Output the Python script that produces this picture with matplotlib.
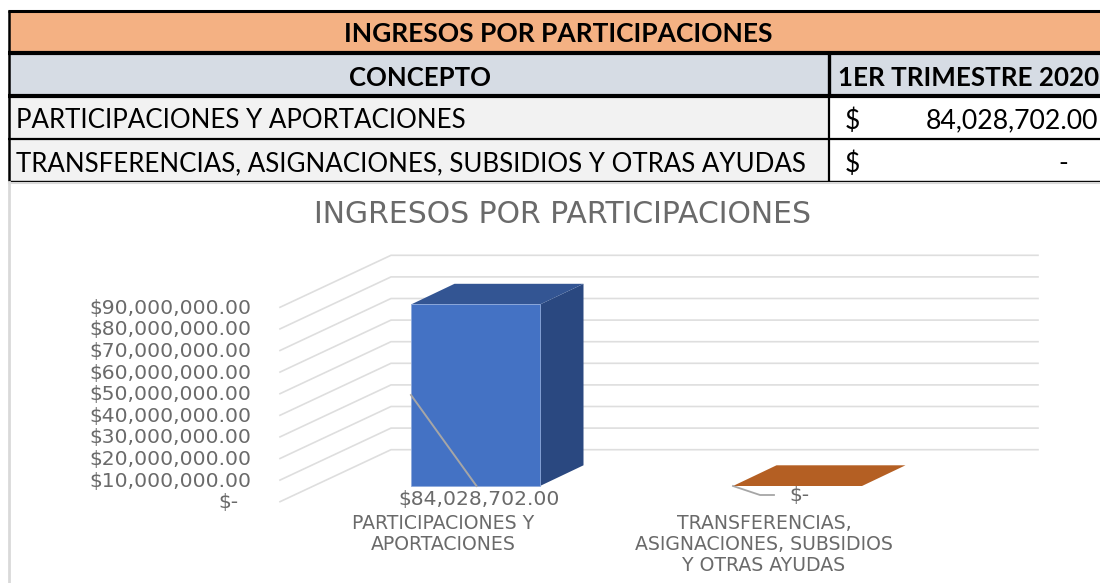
import matplotlib
matplotlib.use("Agg")
import matplotlib.pyplot as plt
from matplotlib.patches import Polygon, Rectangle

# ---- data ----
table_title = "INGRESOS POR PARTICIPACIONES"
table_header = ["CONCEPTO", "1ER TRIMESTRE 2020"]
concepts = ["PARTICIPACIONES Y APORTACIONES",
            "TRANSFERENCIAS, ASIGNACIONES, SUBSIDIOS Y OTRAS AYUDAS"]
amount_labels = ["84,028,702.00", "-"]
chart_title = "INGRESOS POR PARTICIPACIONES"
categories = ["PARTICIPACIONES Y\nAPORTACIONES",
              "TRANSFERENCIAS,\nASIGNACIONES, SUBSIDIOS\nY OTRAS AYUDAS"]
values = [84028702.0, 0.0]
value_labels = ["$84,028,702.00", "$-"]
ticks = [0, 10e6, 20e6, 30e6, 40e6, 50e6, 60e6, 70e6, 80e6, 90e6]
tick_labels = ["$-", "$10,000,000.00", "$20,000,000.00", "$30,000,000.00",
               "$40,000,000.00", "$50,000,000.00", "$60,000,000.00",
               "$70,000,000.00", "$80,000,000.00", "$90,000,000.00"]

W, H = 1100, 583
fig = plt.figure(figsize=(W / 100, H / 100), dpi=100, facecolor="white")

# ---- table layer, in pixel coordinates ----
tb = fig.add_axes([0, 0, 1, 1], zorder=2)
tb.set_xlim(0, W); tb.set_ylim(H, 0); tb.axis("off")
TF = ["Lato", "Open Sans", "DejaVu Sans"]
LEFT, DIV = 9, 829
ROWS = [11, 53, 96, 139, 181]
FILLS = ["#F4B183", "#D6DCE4", "#F2F2F2", "#F2F2F2"]
for i, f in enumerate(FILLS):
    tb.add_patch(Rectangle((LEFT, ROWS[i]), W - LEFT, ROWS[i + 1] - ROWS[i], fc=f, ec="none"))
for i in (2, 3):
    tb.add_patch(Rectangle((DIV, ROWS[i]), W - DIV, ROWS[i + 1] - ROWS[i], fc="white", ec="none"))
for y, lw in zip(ROWS, [2.2, 3, 3, 1.6, 1.0]):
    tb.plot([LEFT - 1, W], [y, y], color="black", lw=lw, solid_capstyle="butt")
tb.plot([LEFT, LEFT], [10, 181], color="black", lw=1.8, solid_capstyle="butt")
tb.plot([DIV, DIV], [53, 96], color="black", lw=2.4, solid_capstyle="butt")
tb.plot([DIV, DIV], [96, 181], color="black", lw=1.6, solid_capstyle="butt")
# chart frame
tb.plot([9, 9], [182, H], color="#D9D9D9", lw=2)
tb.plot([9, W], [182.5, 182.5], color="#D9D9D9", lw=1.5)

tb.text(558.5, 34.5, table_title, ha="center", va="center", fontsize=19, fontweight="bold", family=TF)
tb.text(420, 78, table_header[0], ha="center", va="center", fontsize=18.5, fontweight="bold", family=TF)
tb.text(838, 78, table_header[1], ha="left", va="center", fontsize=18.7, fontweight="bold", family=TF)
for y, c in zip([121, 164], concepts):
    tb.text(16, y, c, ha="left", va="center", fontsize=18.6, family=TF)
    tb.text(845, y, "$", ha="left", va="center", fontsize=19, family=TF)
tb.text(1098, 121, amount_labels[0], ha="right", va="center", fontsize=19.2, family=TF)
tb.text(1063, 164, amount_labels[1], ha="center", va="center", fontsize=19, family=TF)

# ---- chart layer: x = category position, y = value ----
PX_PER_VALUE = 21.6 / 10e6
Y0_PX = 486
CAT_PX = 322
X0_PX = 475.5
ax = fig.add_axes([0, 0, 1, 1], zorder=1)
ax.set_xlim(-X0_PX / CAT_PX, (W - X0_PX) / CAT_PX)
ax.set_ylim((Y0_PX - H) / PX_PER_VALUE, Y0_PX / PX_PER_VALUE)
ax.axis("off")
dx = lambda px: px / CAT_PX
dv = lambda px: px / PX_PER_VALUE

GREY = "#6A6A6A"
CF = "DejaVu Sans"
BAR_W = 129 / CAT_PX
# wall and floor gridlines (front-plane offset is 15.7 px below the bar base)
front_x = (280 - X0_PX) / CAT_PX
back_x = (391 - X0_PX) / CAT_PX
right_x = (1038 - X0_PX) / CAT_PX
base = dv(-15.7)
for t, lab in zip(ticks, tick_labels):
    yf = t + base
    yb = yf + dv(52)
    ax.plot([front_x, back_x, right_x], [yf, yb, yb], color="#DEDEDE", lw=1.2, solid_joinstyle="miter")
    xlab = (228 - X0_PX) / CAT_PX if t == 0 else (251 - X0_PX) / CAT_PX
    ax.text(xlab, yf + dv(-1), lab, ha="center" if t == 0 else "right", va="center",
            fontsize=14.6, color=GREY, family=CF)

# 3-D bars
DX, DY = dx(43.5), dv(20.7)
for i, v in enumerate(values):
    l, r = i - BAR_W / 2, i + BAR_W / 2
    if v > 0:
        ax.add_patch(Polygon([(r, 0), (r + DX, DY), (r + DX, v + DY), (r, v)], fc="#2A4880", ec="none", zorder=3))
        ax.add_patch(Polygon([(l, v), (r, v), (r + DX, v + DY), (l + DX, v + DY)], fc="#335593", ec="none", zorder=3))
        ax.add_patch(Rectangle((l, 0), r - l, v, fc="#4472C4", ec="#8FAADC", lw=0.6, zorder=3))
    else:
        ax.add_patch(Polygon([(l, v), (r, v), (r + DX, v + DY), (l + DX, v + DY)], fc="#B45F23", ec="none", zorder=3))

# leader lines
ax.plot([-BAR_W / 2, dx(1)], [dv(91), 0], color="#A6A6A6", lw=1.4, zorder=4)
ax.plot([1 - BAR_W / 2, 1 - BAR_W / 2 + dx(27), 1 - BAR_W / 2 + dx(41)], [0, dv(-9), dv(-9)],
        color="#A6A6A6", lw=1.3, zorder=4)

# value labels
ax.text(dx(4), dv(-13), value_labels[0], ha="center", va="center", fontsize=14.6, color=GREY, family=CF, zorder=5)
ax.text(1 + dx(2), dv(-10), value_labels[1], ha="center", va="center", fontsize=14.6, color=GREY, family=CF, zorder=5)

# category labels
for i, (c, xp) in enumerate(zip(categories, [443, 764])):
    ax.text((xp - X0_PX) / CAT_PX, dv(-28), c, ha="center", va="top", fontsize=13.6,
            color=GREY, family=CF, linespacing=1.14, zorder=5)

# chart title
ax.text((562 - X0_PX) / CAT_PX, dv(486 - 214.5), chart_title, ha="center", va="center",
        fontsize=21.5, color=GREY, family=CF)

fig.savefig("out.png", dpi=100)
